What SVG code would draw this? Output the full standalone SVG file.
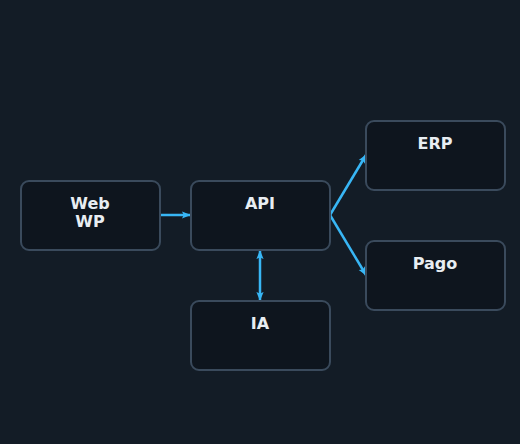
<svg xmlns="http://www.w3.org/2000/svg" width="520" height="444" viewBox="0 0 520 444">
<defs>
<marker id="ah" viewBox="0 0 10 10" refX="9" refY="5" markerWidth="9" markerHeight="9" markerUnits="userSpaceOnUse" orient="auto-start-reverse">
<path d="M0,1 L10,5 L0,9 L2,5 Z" fill="#38b6f5"/>
</marker>
</defs>
<style>
.box{fill:#0e151e;stroke:#3a4a5c;stroke-width:2}
.lbl{font-family:"DejaVu Sans",sans-serif;font-weight:bold;font-size:16px;fill:#e8edf2;text-anchor:middle}
.edge{fill:none;stroke:#38b6f5;stroke-width:2.5;marker-end:url(#ah)}
</style>
<rect width="520" height="444" fill="#131c26"/>
<g id="connectors">
<line class="edge" x1="160" y1="215" x2="190" y2="215"/>
<line class="edge" x1="260" y1="251" x2="260" y2="300" style="marker-start:url(#ah)"/>
<path class="edge" d="M330,215 L366,155"/>
<path class="edge" d="M330,215 L366,275"/>
</g>
<g id="web"><rect class="box" x="21" y="181" width="139" height="69" rx="8"/><text class="lbl" x="90" y="209">Web</text><text class="lbl" x="90" y="227">WP</text></g>
<g id="api"><rect class="box" x="191" y="181" width="139" height="69" rx="8"/><text class="lbl" x="260" y="209">API</text></g>
<g id="ia"><rect class="box" x="191" y="301" width="139" height="69" rx="8"/><text class="lbl" x="260" y="329">IA</text></g>
<g id="erp"><rect class="box" x="366" y="121" width="139" height="69" rx="8"/><text class="lbl" x="435" y="149">ERP</text></g>
<g id="pago"><rect class="box" x="366" y="241" width="139" height="69" rx="8"/><text class="lbl" x="435" y="269">Pago</text></g>
</svg>
